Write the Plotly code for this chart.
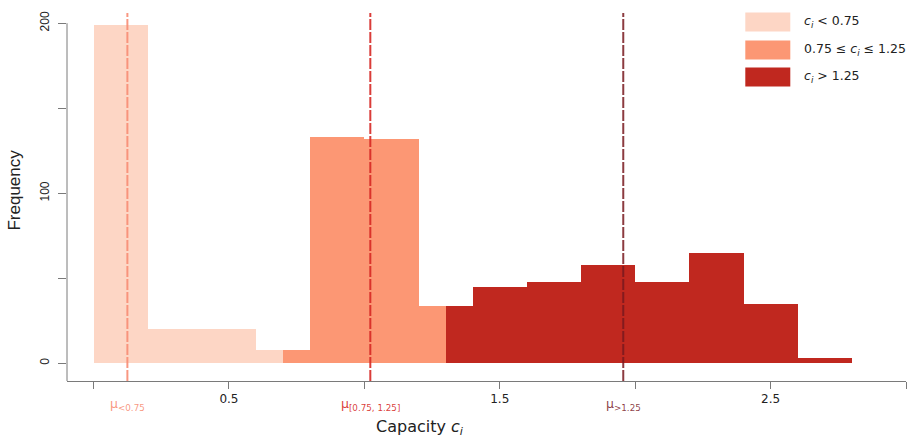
import plotly.graph_objects as go

# ---- data (histogram bins) ----
light_left = [0.0, 0.2, 0.4, 0.6]
light_right = [0.2, 0.4, 0.6, 0.7]
light_counts = [199, 20, 20, 8]

mid_left = [0.7, 0.8, 1.0, 1.2]
mid_right = [0.8, 1.0, 1.2, 1.3]
mid_counts = [8, 133, 132, 34]

high_left = [1.3, 1.4, 1.6, 1.8, 2.0, 2.2, 2.4, 2.6]
high_right = [1.4, 1.6, 1.8, 2.0, 2.2, 2.4, 2.6, 2.8]
high_counts = [34, 45, 48, 58, 48, 65, 35, 3]

group_means = [0.125, 1.022, 1.956]
mean_labels = ["μ<sub>&lt;0.75</sub>", "μ<sub>[0.75, 1.25]</sub>", "μ<sub>&gt;1.25</sub>"]
legend_labels = ["<i>c<sub>i</sub></i> &lt; 0.75",
                 "0.75 ≤ <i>c<sub>i</sub></i> ≤ 1.25",
                 "<i>c<sub>i</sub></i> &gt; 1.25"]

x_tick_vals = [0.5, 1.5, 2.5]
x_tick_text = ["0.5", "1.5", "2.5"]
y_tick_vals = [0, 100, 200]
y_tick_text = ["0", "100", "200"]

fill_colors = ["#FDD6C5", "#FC9774", "#C0281F"]
line_colors = ["rgba(247,140,115,0.9)", "rgba(214,40,36,0.9)", "rgba(120,25,30,0.85)"]

W, H = 914, 437
ML, MR, MT, MB = 66.7, 8.3, 12.5, 56

fig = go.Figure()
for lefts, rights, counts, col in [(light_left, light_right, light_counts, fill_colors[0]),
                                   (mid_left, mid_right, mid_counts, fill_colors[1]),
                                   (high_left, high_right, high_counts, fill_colors[2])]:
    centers = [(a + b) / 2 for a, b in zip(lefts, rights)]
    widths = [b - a for a, b in zip(lefts, rights)]
    fig.add_trace(go.Bar(x=centers, y=counts, width=widths, marker=dict(color=col, line=dict(width=0)),
                         showlegend=False, hoverinfo="skip"))

# mean lines
for m, col, lab in zip(group_means, line_colors, mean_labels):
    fig.add_shape(type="line", xref="x", yref="paper", x0=m, x1=m, y0=0, y1=1,
                  line=dict(color=col, width=2, dash="11px,2px"), layer="above")
    fig.add_annotation(x=m, xref="x", y=-0.065, yref="paper", text=lab, showarrow=False,
                       font=dict(family="DejaVu Sans", size=12.5, color=col), yanchor="middle")

Y_MIN, Y_MAX = -10.4, 206
# y-axis line (from bottom to 200)
fig.add_shape(type="line", xref="paper", yref="y", x0=0, x1=0, y0=Y_MIN, y1=200,
              line=dict(color="#7a7a7a", width=1))

pw = W - ML - MR
ph = H - MT - MB
def px_x(p):
    return (p - ML) / pw
def px_y(p):
    return (H - MB - p) / ph

# manual legend
leg_tops = [12, 40, 67]
for top, col, lab in zip(leg_tops, fill_colors, legend_labels):
    fig.add_shape(type="rect", xref="paper", yref="paper", x0=px_x(745), x1=px_x(790),
                  y0=px_y(top + 19), y1=px_y(top), fillcolor=col, line=dict(width=0))
    fig.add_annotation(xref="paper", yref="paper", x=px_x(802), y=px_y(top + 9.5), text=lab,
                       showarrow=False, xanchor="left", yanchor="middle",
                       font=dict(family="DejaVu Sans", size=12.5, color="#222"))

# axis titles
fig.add_annotation(xref="paper", yref="paper", x=px_x(420), y=px_y(428), text="Capacity <i>c<sub>i</sub></i>",
                   showarrow=False, font=dict(family="DejaVu Sans", size=16, color="#222"),
                   xanchor="center", yanchor="middle")
fig.add_annotation(xref="paper", yref="paper", x=px_x(14), y=px_y(190), text="Frequency",
                   textangle=-90, showarrow=False, font=dict(family="Liberation Sans", size=17, color="#222"),
                   xanchor="center", yanchor="middle")

fig.update_layout(
    width=W, height=H, margin=dict(l=ML, r=MR, t=MT, b=MB, autoexpand=False),
    plot_bgcolor="white", paper_bgcolor="white", bargap=0, barmode="overlay",
    xaxis=dict(range=[-0.098, 3.0], tickmode="array", tickvals=x_tick_vals, ticktext=x_tick_text,
               ticks="outside", ticklen=7, tickcolor="#7a7a7a", showline=True, linecolor="#7a7a7a",
               linewidth=1, showgrid=False, zeroline=False,
               minor=dict(tick0=0, dtick=0.5, ticks="outside", ticklen=7, tickcolor="#7a7a7a", showgrid=False),
               tickfont=dict(family="DejaVu Sans", size=12, color="#222")),
    yaxis=dict(range=[Y_MIN, Y_MAX], tickmode="array", tickvals=y_tick_vals, ticktext=y_tick_text,
               ticks="outside", ticklen=8, tickcolor="#7a7a7a", showline=False, showgrid=False,
               zeroline=False, tickangle=-90, ticklabelstandoff=4,
               minor=dict(tick0=0, dtick=50, ticks="outside", ticklen=8, tickcolor="#7a7a7a", showgrid=False),
               tickfont=dict(family="Liberation Sans", size=12, color="#222")),
)

fig.write_html("out.html", config={"displayModeBar": False},
               post_script="document.body.style.margin='0';document.body.style.overflow='hidden';")
